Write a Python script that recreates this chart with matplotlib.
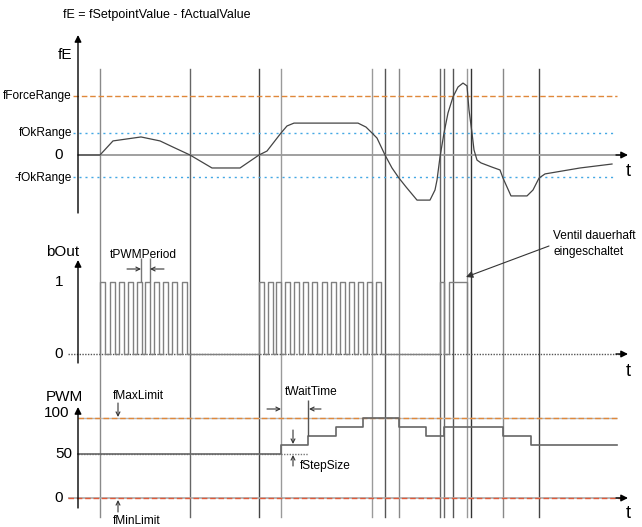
import matplotlib
matplotlib.use('Agg')
import matplotlib.pyplot as plt

plt.rcParams['font.family'] = ['Liberation Sans', 'DejaVu Sans']

# ---------------- data (time in arbitrary units, t=0 at the y-axes) -------------
event_t = [22, 112, 181, 203, 294, 307, 321, 362, 366, 375, 389, 393, 425, 461]
event_shade = ['#8a8a8a', '#666666', '#444444', '#9a9a9a', '#9a9a9a', '#555555', '#888888',
               '#666666', '#666666', '#555555', '#999999', '#333333', '#888888', '#444444']

fe_t = [0, 22, 35, 63, 82, 95, 112, 134, 162, 181, 189, 203, 209, 216, 280, 288, 294, 299,
        307, 314, 321, 328, 339, 352, 357, 359, 362, 366, 370, 375, 380, 385, 389, 391, 394,
        396, 399, 403, 414, 422, 425, 433, 449, 455, 461, 467, 502, 534]
fe_val = [0, 0, 0.64, 0.82, 0.64, 0.36, 0, -0.59, -0.59, 0, 0.18, 1.0, 1.32, 1.45, 1.45, 1.27,
          1.0, 0.77, 0, -0.59, -1.05, -1.45, -2.05, -2.05, -1.59, -1.14, -0.09, 1.0, 1.91, 2.64,
          3.09, 3.27, 3.14, 2.05, 1.0, 0.23, -0.23, -0.36, -0.55, -0.68, -1.05, -1.86, -1.86,
          -1.59, -1.05, -0.86, -0.59, -0.41]
ok_range = 1.0
force_range = 2.68

pulse_rise = [22, 32, 41, 50, 59, 67, 76, 85, 94, 104,
              181, 190, 198, 207, 216, 225, 234, 244, 253, 262, 271, 280, 289, 298,
              362, 371]
pulse_fall = [27, 37, 46, 55, 64, 72, 81, 90, 99, 109,
              186, 195, 203, 212, 221, 230, 239, 249, 258, 267, 276, 285, 294, 303,
              366, 389]

pwm_t = [0, 203, 230, 258, 285, 321, 348, 366, 425, 453, 539]
pwm_val = [50, 60, 70, 80, 90, 80, 70, 80, 70, 60, 60]
pwm_max_limit = 90
pwm_min_limit = 0

# ---------------- layout -------------
W, H = 642, 527
X0 = 78
fig = plt.figure(figsize=(W / 100, H / 100), dpi=100)


def data_axes(y0, ppu):
    ax = fig.add_axes([0, 0, 1, 1])
    ax.set_xlim(-X0, W - X0)
    ax.set_ylim((y0 - H) / ppu, y0 / ppu)
    ax.axis('off')
    ax.patch.set_alpha(0)
    return ax


ax_e = data_axes(155, 22)
ax_b = data_axes(354, 72)
ax_p = data_axes(498, 80 / 90)
px = fig.add_axes([0, 0, 1, 1])
px.set_xlim(0, W)
px.set_ylim(H, 0)
px.axis('off')
px.patch.set_alpha(0)

ORANGE = '#e0883a'
BLUE = '#44a8e4'

# event lines
for t, c in zip(event_t, event_shade):
    ax_e.axvline(t, ymin=1 - 517 / H, ymax=1 - 69 / H, color=c, lw=1.0, zorder=1)

# ---- top panel ----
ax_e.hlines(force_range, -5, 539, color=ORANGE, lw=1.0, linestyle=(0, (4, 2)), zorder=2)
ax_e.hlines([ok_range, -ok_range], -5, 535, color=BLUE, lw=1.0, linestyle=(0, (1.5, 2.8)), zorder=2)
ax_e.hlines(0, 0, 545, color='#999999', lw=1.3, zorder=2)
ax_e.plot(fe_t, fe_val, color='#444444', lw=0.9, zorder=3)

# ---- middle panel ----
bx, by = [], []
for r, f in zip(pulse_rise, pulse_fall):
    bx += [r, r, f, f]
    by += [0, 1, 1, 0]
ax_b.plot(bx, by, color='#808080', lw=1.0, zorder=3)
ax_b.hlines(0, -10, 545, color='#555555', lw=1.0, linestyle=(0, (1, 1)), zorder=2)

# ---- bottom panel ----
ax_p.hlines(pwm_max_limit, 0, 539, color='#bbbbbb', lw=1.0, zorder=2)
ax_p.hlines(pwm_max_limit, 0, 539, color=ORANGE, lw=1.0, linestyle=(0, (4, 2)), zorder=2)
ax_p.hlines(pwm_min_limit, -10, 545, color='#aaaaaa', lw=1.2, zorder=2)
ax_p.hlines(pwm_min_limit, -10, 545, color='#e05a3a', lw=1.0, linestyle=(0, (4, 2)), zorder=2)
ax_p.hlines(pwm_val[0], 0, pwm_t[2], color='#777777', lw=1.0, linestyle=(0, (1, 1)), zorder=2)
ax_p.step(pwm_t, pwm_val, where='post', color='#666666', lw=1.2, zorder=3)

# ---------------- axes arrows (overlay, pixel space) -------------
ax_head = dict(arrowstyle='-|>', color='black', lw=1.0, mutation_scale=10, shrinkA=0, shrinkB=0)
for ybot, ytop in [(213, 35), (363, 260), (508, 407)]:
    px.annotate('', xy=(X0, ytop), xytext=(X0, ybot), arrowprops=ax_head, zorder=5)
for yh in [155, 354, 498]:
    px.annotate('', xy=(628, yh), xytext=(616, yh), arrowprops=ax_head, zorder=5)

BIG = 11
SMALL = 8.6
TSIZE = 13
px.text(63, 15, 'fE = fSetpointValue - fActualValue', fontsize=9, va='center', ha='left')
px.text(65, 55, 'fE', fontsize=BIG, va='center', ha='center')
px.text(72, 96, 'fForceRange', fontsize=SMALL, va='center', ha='right')
px.text(72, 133, 'fOkRange', fontsize=SMALL, va='center', ha='right')
px.text(63, 155, '0', fontsize=BIG, va='center', ha='right')
px.text(72, 178, '-fOkRange', fontsize=SMALL, va='center', ha='right')
px.text(628, 172, 't', fontsize=TSIZE, va='center', ha='center')

px.text(63, 252, 'bOut', fontsize=BIG, va='center', ha='center')
px.text(63, 282, '1', fontsize=BIG, va='center', ha='right')
px.text(63, 354, '0', fontsize=BIG, va='center', ha='right')
px.text(628, 372, 't', fontsize=TSIZE, va='center', ha='center')

px.text(64, 397, 'PWM', fontsize=BIG, va='center', ha='center')
px.text(69, 413, '100', fontsize=BIG, va='center', ha='right')
px.text(72, 454, '50', fontsize=BIG, va='center', ha='right')
px.text(63, 498, '0', fontsize=BIG, va='center', ha='right')
px.text(628, 514, 't', fontsize=TSIZE, va='center', ha='center')

# annotations
thin = dict(arrowstyle='->', color='#333333', lw=0.8, mutation_scale=7, shrinkA=0, shrinkB=0)
px.text(143, 255, 'tPWMPeriod', fontsize=SMALL, va='center', ha='center')
px.vlines([141, 150], 258, 282, color='#777777', lw=1.0)
px.annotate('', xy=(141, 269), xytext=(127, 269), arrowprops=thin)
px.annotate('', xy=(150, 269), xytext=(164, 269), arrowprops=thin)

px.text(553, 236, 'Ventil dauerhaft', fontsize=SMALL, va='center', ha='left')
px.text(553, 252, 'eingeschaltet', fontsize=SMALL, va='center', ha='left')
px.annotate('', xy=(466, 277), xytext=(549, 246),
            arrowprops=dict(arrowstyle='-|>', color='#333333', lw=0.8, mutation_scale=10,
                            shrinkA=0, shrinkB=0))

px.text(113, 396, 'fMaxLimit', fontsize=SMALL, va='center', ha='left')
px.annotate('', xy=(118, 417), xytext=(118, 403), arrowprops=thin)
px.text(113, 521, 'fMinLimit', fontsize=SMALL, va='center', ha='left')
px.annotate('', xy=(118, 500), xytext=(118, 512), arrowprops=thin)

px.text(285, 392, 'tWaitTime', fontsize=SMALL, va='center', ha='left')
px.vlines(308, 400, 436, color='#555555', lw=1.0)
px.annotate('', xy=(281, 409), xytext=(267, 409), arrowprops=thin)
px.annotate('', xy=(309, 409), xytext=(321, 409), arrowprops=thin)

px.annotate('', xy=(293, 444), xytext=(293, 430), arrowprops=thin)
px.annotate('', xy=(293, 455), xytext=(293, 466), arrowprops=thin)
px.text(300, 466, 'fStepSize', fontsize=SMALL, va='center', ha='left')

fig.savefig('out.png', dpi=100, facecolor='white')
